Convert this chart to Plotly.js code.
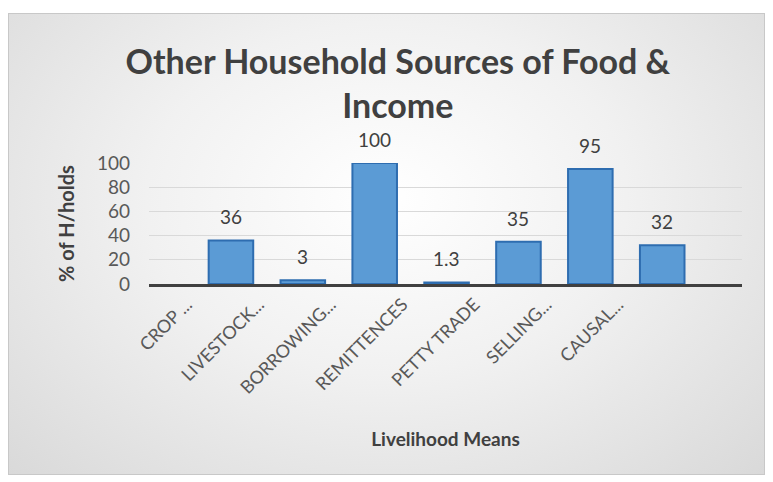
<!DOCTYPE html>
<html>
<head>
<meta charset="utf-8">
<script src="https://cdn.plot.ly/plotly-3.0.1.min.js"></script>
<style>
  html, body { margin: 0; padding: 0; background: #ffffff; width: 773px; height: 482px; overflow: hidden; }
  #frame { position: absolute; left: 8px; top: 13px; width: 755px; height: 460px; border: 1px solid #c8c8c8;
           background: radial-gradient(ellipse at 50% 40%, #ffffff 0%, #f1f1f1 45%, #d9d9d9 100%); }
  #chart { width: 755px; height: 460px; }
</style>
</head>
<body>
<div id="frame"><div id="chart"></div></div>
<script>
const categories = ["CROP ...", "LIVESTOCK...", "BORROWING...", "REMITTENCES", "PETTY TRADE", "SELLING...", "CAUSAL..."];
const values = [36, 3, 100, 1.3, 35, 95, 32];
const valueLabels = ["36", "3", "100", "1.3", "35", "95", "32"];
const yTicks = [0, 20, 40, 60, 80, 100];

const FONT = "Lato, 'Open Sans', sans-serif";

const trace = {
  type: "bar",
  x: categories,
  y: values,
  width: 0.62,
  marker: { color: "#5b9bd5", line: { color: "#2e6db0", width: 2 } },
  hoverinfo: "x+y"
};

const annotations = categories.map((c, i) => ({
  x: c, y: values[i], xref: "x", yref: "y",
  text: valueLabels[i], showarrow: false,
  yanchor: "bottom", yshift: 10,
  font: { family: FONT, size: 19, color: "#404040" }
}));

const layout = {
  width: 755, height: 460,
  paper_bgcolor: "rgba(0,0,0,0)",
  plot_bgcolor: "rgba(0,0,0,0)",
  margin: { l: 140, r: 22, t: 149, b: 190 },
  showlegend: false,
  title: {
    text: "Other Household Sources of Food &<br>Income",
    font: { family: FONT, size: 34, color: "#404040", weight: "bold" },
    x: 0.515, xanchor: "center", y: 0.87, yanchor: "middle"
  },
  xaxis: {
    type: "category",
    range: [-1.14, 7.11],
    tickangle: -45,
    tickfont: { family: FONT, size: 18, color: "#595959" },
    ticklabelshift: -44,
    ticklabelstandoff: 0,
    showline: true, linecolor: "#404040", linewidth: 3,
    ticks: "",
    showgrid: false,
    title: { text: "Livelihood Means", font: { family: FONT, size: 19, color: "#404040", weight: "bold" }, standoff: 36 }
  },
  yaxis: {
    range: [0, 100],
    tickvals: yTicks,
    ticktext: yTicks.map(String),
    tickfont: { family: FONT, size: 19, color: "#595959" },
    ticklabelstandoff: 18,
    showgrid: true, gridcolor: "#d9d9d9", gridwidth: 1,
    zeroline: false, showline: false, ticks: "",
    title: { text: "% of H/holds", font: { family: FONT, size: 20, color: "#404040", weight: "bold" }, standoff: 16 }
  },
  annotations: annotations
};

Plotly.newPlot("chart", [trace], layout, { displayModeBar: false, staticPlot: true });
</script>
</body>
</html>
